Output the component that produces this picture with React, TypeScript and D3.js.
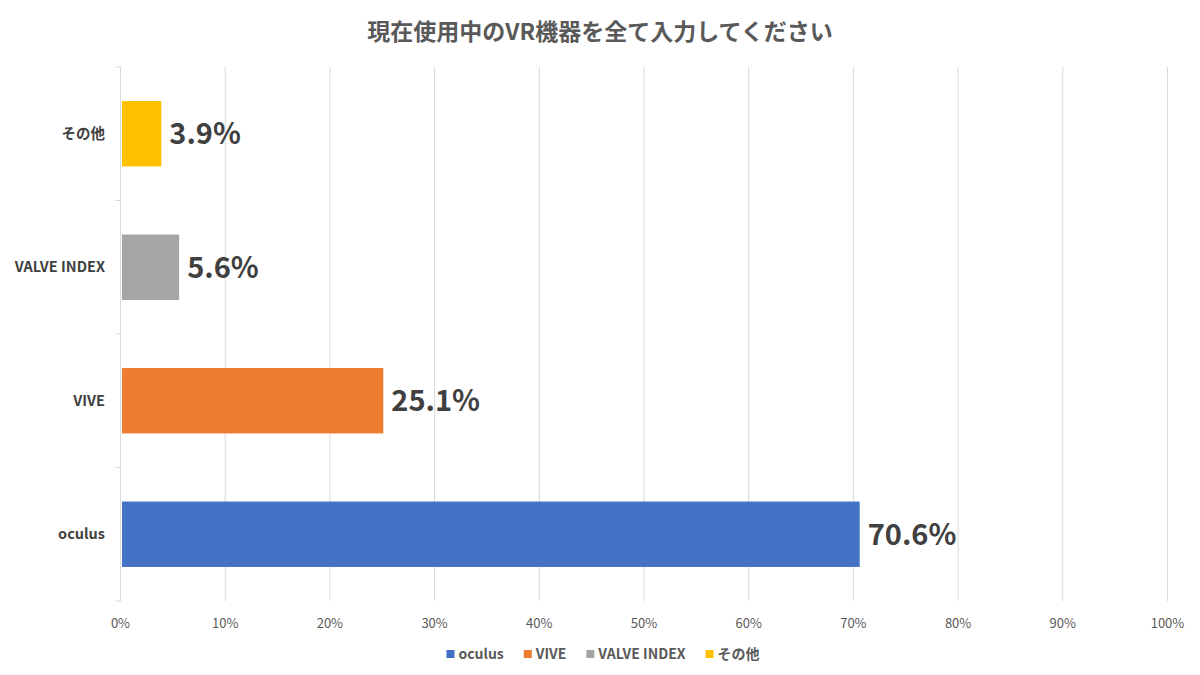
import React from 'react';
import * as d3 from 'd3';

const categories = ['oculus', 'VIVE', 'VALVE INDEX', 'その他'];
const values = [70.6, 25.1, 5.6, 3.9];
const colors = ['#4472C4', '#ED7D31', '#A5A5A5', '#FFC000'];
const xTicks = [0, 10, 20, 30, 40, 50, 60, 70, 80, 90, 100];
const title = '現在使用中のVR機器を全て入力してください';

const FONT = "'Noto Sans CJK JP', 'Noto Sans', sans-serif";

const App: React.FC = () => {
  const svgRef = React.useRef<SVGSVGElement>(null);
  const width = 1200;
  const height = 675;

  React.useEffect(() => {
    if (!svgRef.current) return;
    const svg = d3.select(svgRef.current);
    svg.selectAll('*').remove();

    const left = 120.5;
    const right = 1167.5;
    const top = 67;
    const bottom = 601;

    const x = d3.scaleLinear().domain([0, 100]).range([left, right]);
    // 上から その他 → oculus
    const y = d3.scaleBand<string>()
      .domain([...categories].reverse())
      .range([top, bottom])
      .paddingInner(0.51)
      .paddingOuter(0.255);

    // グリッド線
    svg.append('g')
      .selectAll('line')
      .data(xTicks.slice(1))
      .enter().append('line')
      .attr('x1', d => x(d))
      .attr('x2', d => x(d))
      .attr('y1', top)
      .attr('y2', bottom)
      .attr('stroke', '#d9d9d9')
      .attr('stroke-width', 1);

    // Y軸
    const axis = svg.append('g').attr('stroke', '#d9d9d9');
    axis.append('line')
      .attr('x1', left).attr('x2', left)
      .attr('y1', top).attr('y2', bottom);
    d3.range(categories.length + 1).forEach(i => {
      const yy = top + i * (bottom - top) / categories.length;
      axis.append('line')
        .attr('x1', left - 5).attr('x2', left)
        .attr('y1', yy).attr('y2', yy);
    });

    // バー
    svg.append('g')
      .selectAll('rect')
      .data(categories)
      .enter().append('rect')
      .attr('x', x(0) + 1.5)
      .attr('y', d => y(d) || 0)
      .attr('width', (d, i) => x(values[i]) - x(0) - 1.5)
      .attr('height', y.bandwidth())
      .attr('fill', (d, i) => colors[i]);

    // 値ラベル
    svg.append('g')
      .selectAll('text')
      .data(categories)
      .enter().append('text')
      .attr('x', (d, i) => x(values[i]) + 8)
      .attr('y', d => (y(d) || 0) + y.bandwidth() / 2)
      .attr('dy', '0.36em')
      .attr('font-family', FONT)
      .attr('font-size', 29)
      .attr('font-weight', 'bold')
      .attr('fill', '#404040')
      .text((d, i) => `${values[i].toFixed(1)}%`);

    // カテゴリラベル
    svg.append('g')
      .selectAll('text')
      .data(categories)
      .enter().append('text')
      .attr('x', 105)
      .attr('y', d => (y(d) || 0) + y.bandwidth() / 2)
      .attr('dy', '0.36em')
      .attr('text-anchor', 'end')
      .attr('font-family', FONT)
      .attr('font-size', 14.5)
      .attr('font-weight', 'bold')
      .attr('fill', '#404040')
      .text(d => d);

    // X軸ラベル
    svg.append('g')
      .selectAll('text')
      .data(xTicks)
      .enter().append('text')
      .attr('x', d => x(d))
      .attr('y', 623)
      .attr('dy', '0.36em')
      .attr('text-anchor', 'middle')
      .attr('font-family', FONT)
      .attr('font-size', 13)
      .attr('fill', '#595959')
      .text(d => `${d}%`);

    // タイトル
    svg.append('text')
      .attr('x', 600)
      .attr('y', 32)
      .attr('dy', '0.36em')
      .attr('text-anchor', 'middle')
      .attr('font-family', FONT)
      .attr('font-size', 23)
      .attr('font-weight', 'bold')
      .attr('fill', '#595959')
      .text(title);

    // 凡例
    const legend = svg.append('g');
    let cx = 0;
    categories.forEach((c, i) => {
      const item = legend.append('g').attr('transform', `translate(${cx},0)`);
      item.append('rect')
        .attr('x', 0).attr('y', -4)
        .attr('width', 8).attr('height', 8)
        .attr('fill', colors[i]);
      const t = item.append('text')
        .attr('x', 12)
        .attr('y', 0)
        .attr('dy', '0.36em')
        .attr('font-family', FONT)
        .attr('font-size', 14)
        .attr('font-weight', 'bold')
        .attr('fill', '#595959')
        .text(c);
      const w = (t.node() as SVGTextElement).getComputedTextLength();
      cx += 12 + w + 20;
    });
    const total = cx - 20;
    legend.attr('transform', `translate(${603 - total / 2},654)`);
  }, []);

  return (
    <svg
      ref={svgRef}
      width={width}
      height={height}
      style={{ position: 'absolute', left: 0, top: 0, background: '#fff' }}
    />
  );
};

export default App;
